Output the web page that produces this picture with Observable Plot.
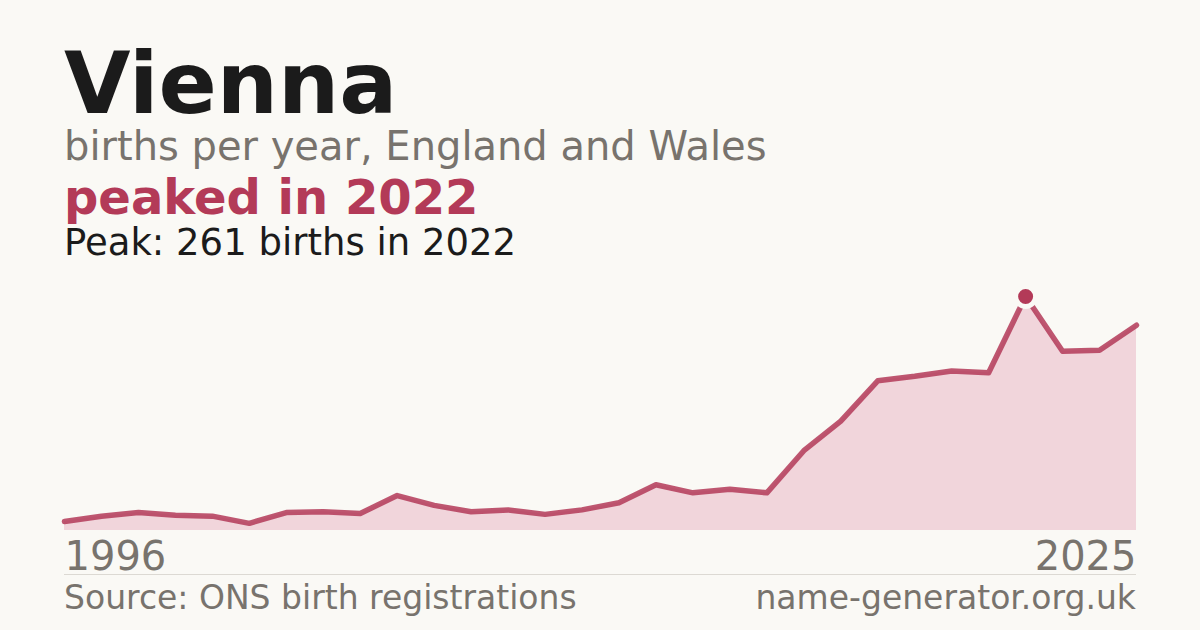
<!DOCTYPE html>
<html>
<head>
<meta charset="utf-8">
<script src="https://cdn.jsdelivr.net/npm/d3@7"></script>
<script src="https://cdn.jsdelivr.net/npm/@observablehq/plot@0.6"></script>
<style>
  html, body { margin: 0; padding: 0; background: #faf9f5; }
  #page { position: relative; width: 1200px; height: 630px; background: #faf9f5; font-family: "DejaVu Sans", sans-serif; overflow: hidden; }
  .t { position: absolute; left: 64px; white-space: nowrap; line-height: 1; }
  #title { font-size: 86px; font-weight: bold; color: #1b1b1b; top: 40px; }
  #sub { font-size: 40px; color: #78736d; top: 126px; }
  #peaked { font-size: 48px; font-weight: bold; color: #b33a58; top: 173px; }
  #peak { font-size: 37px; color: #1b1b1b; top: 224px; }
  #chart { position: absolute; left: 0; top: 270px; }
  #sep { position: absolute; left: 64px; width: 1072px; top: 574px; height: 0; border-top: 1px solid #dcd9d3; }
  #src { font-size: 33px; color: #78736d; top: 581px; }
  #site { position: absolute; right: 64px; font-size: 33px; color: #78736d; top: 581px; white-space: nowrap; line-height: 1; }
</style>
</head>
<body>
<div id="page">
  <div class="t" id="title">Vienna</div>
  <div class="t" id="sub">births per year, England and Wales</div>
  <div class="t" id="peaked">peaked in 2022</div>
  <div class="t" id="peak">Peak: 261 births in 2022</div>
  <div id="chart"></div>
  <div id="sep"></div>
  <div class="t" id="src">Source: ONS birth registrations</div>
  <div id="site">name-generator.org.uk</div>
</div>
<script>
const years = d3.range(1996, 2026);
const births = [10, 16, 20, 17, 16, 8, 20, 21, 19, 39, 28, 21, 23, 18, 23, 31, 51, 42, 46, 42, 89, 122, 167, 172, 178, 176, 261, 200, 201, 229];
const tickYears = [1996, 2025];
const peakYear = 2022;
const peakValue = 261;

const accent = "#b33a58";
const bg = "#faf9f5";
const data = years.map((y, i) => ({year: y, value: births[i]}));
const peak = [{year: peakYear, value: peakValue}];

const plot = Plot.plot({
  width: 1200,
  height: 310,
  marginLeft: 64,
  marginRight: 64,
  marginTop: 26,
  marginBottom: 50,
  style: {background: "transparent", fontFamily: "DejaVu Sans, sans-serif"},
  x: {domain: [1996, 2025], axis: null},
  y: {domain: [0, 261], axis: null},
  marks: [
    Plot.areaY(data, {x: "year", y: "value", fill: "#f1d5db"}),
    Plot.lineY(data, {x: "year", y: "value", stroke: accent, strokeWidth: 5.5, strokeOpacity: 0.85}),
    Plot.dot(peak, {x: "year", y: "value", r: 10, fill: accent, stroke: bg, strokeWidth: 5}),
    Plot.text([tickYears[0]], {x: d => d, y: 0, text: d => String(d), textAnchor: "start", lineAnchor: "bottom", dy: 39, fontSize: 40, fill: "#78736d"}),
    Plot.text([tickYears[1]], {x: d => d, y: 0, text: d => String(d), textAnchor: "end", lineAnchor: "bottom", dy: 39, fontSize: 40, fill: "#78736d"})
  ]
});
document.getElementById("chart").appendChild(plot);
</script>
</body>
</html>
